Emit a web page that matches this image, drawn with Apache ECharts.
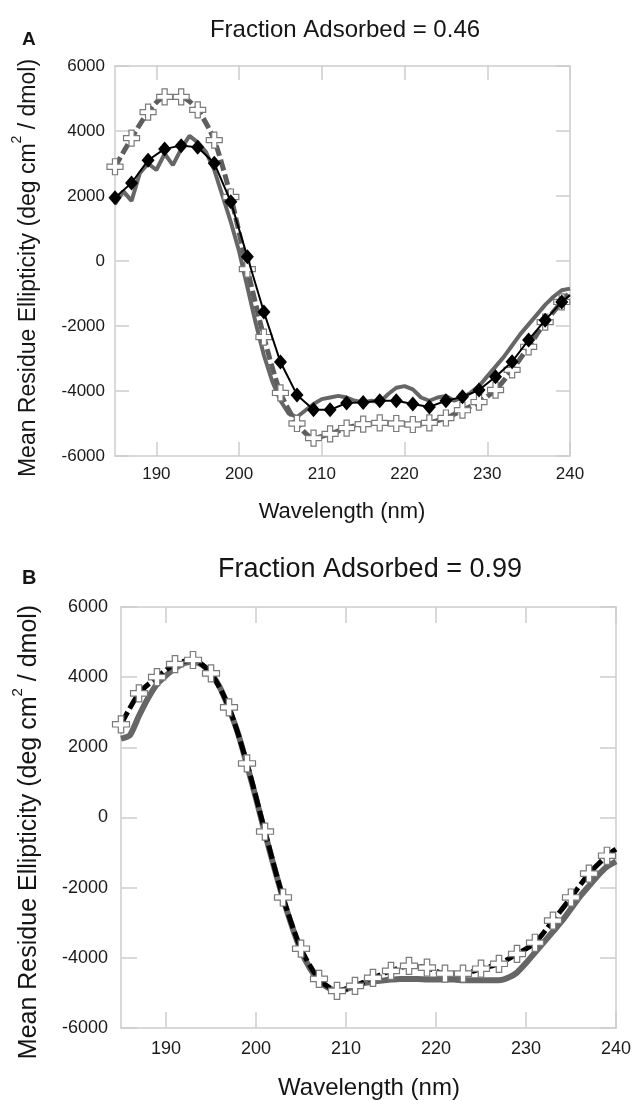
<!DOCTYPE html>
<html>
<head>
<meta charset="utf-8">
<script src="https://cdn.jsdelivr.net/npm/echarts@6/dist/echarts.min.js"></script>
<style>
html,body{margin:0;padding:0;background:#fff;}
#c{width:634px;height:1101px;}
</style>
</head>
<body>
<div id="c"></div>
<script>
// ---------- data ----------
const xTicks = [190, 200, 210, 220, 230, 240];
const yTicks = [-6000, -4000, -2000, 0, 2000, 4000, 6000];

// Panel A (Fraction Adsorbed = 0.46)
const wlA1nm = [185,186,187,188,189,190,191,192,193,194,195,196,197,198,199,200,201,202,203,204,205,206,207,208,209,210,211,212,213,214,215,216,217,218,219,220,221,222,223,224,225,226,227,228,229,230,231,232,233,234,235,236,237,238,239,240];
const aGraySolid = [1750,2150,1850,2700,3000,2800,3300,2950,3450,3850,3650,3350,2800,2000,1200,300,-800,-1900,-2900,-3700,-4300,-4700,-4800,-4600,-4400,-4250,-4200,-4150,-4200,-4300,-4350,-4300,-4350,-4100,-3900,-3850,-3950,-4200,-4300,-4200,-4150,-4300,-4200,-4050,-3850,-3550,-3250,-2950,-2600,-2250,-1950,-1650,-1350,-1100,-900,-850];
const wlA2nm = [185,187,189,191,193,195,197,199,201,203,205,207,209,211,213,215,217,219,221,223,225,227,229,231,233,235,237,239,240];
const aGrayDashedPlus = [2900,3780,4580,5050,5050,4650,3720,1970,-250,-2340,-4060,-5000,-5450,-5320,-5140,-5020,-4980,-5000,-5030,-4980,-4830,-4590,-4340,-3970,-3350,-2640,-1880,-1260,-950];
const aBlackDiamond = [1950,2400,3100,3450,3550,3500,3010,1820,130,-1570,-3110,-4120,-4580,-4580,-4370,-4350,-4300,-4300,-4400,-4490,-4300,-4180,-3970,-3560,-3100,-2430,-1820,-1260,-1050];

// Panel B (Fraction Adsorbed = 0.99)
const wlB1nm = [185,186,187,188,189,190,191,192,193,194,195,196,197,198,199,200,201,202,203,204,205,206,207,208,209,210,211,212,213,214,215,216,217,218,219,220,221,222,223,224,225,226,227,228,229,230,231,232,233,234,235,236,237,238,239,240];
const bGraySolid = [2250,2350,2900,3400,3800,4050,4250,4400,4450,4350,4100,3700,3100,2400,1500,550,-450,-1400,-2300,-3100,-3800,-4300,-4650,-4850,-4950,-4900,-4800,-4720,-4680,-4650,-4620,-4600,-4600,-4600,-4620,-4620,-4620,-4620,-4640,-4640,-4640,-4640,-4640,-4570,-4420,-4150,-3850,-3550,-3250,-2950,-2600,-2250,-1950,-1650,-1400,-1250];
const wlB2nm = [185,187,189,191,193,195,197,199,201,203,205,207,209,211,213,215,217,219,221,223,225,227,229,231,233,235,237,239,240];
const bBlackDashedPlus = [2657,3540,4000,4370,4490,4110,3140,1540,-400,-2280,-3740,-4600,-4940,-4800,-4570,-4370,-4230,-4280,-4450,-4450,-4310,-4170,-3890,-3570,-2940,-2280,-1600,-1090,-900];

// ---------- helpers ----------
const FONT = 'Liberation Sans, Arial, Helvetica, sans-serif';
const PLUS = 'path://M3.4,0H6.6V3.4H10V6.6H6.6V10H3.4V6.6H0V3.4H3.4Z';
const AXC = '#cdcdcd';
function pairs(xs, ys){ return xs.map((x,i)=>[x, ys[i]]); }
function plusSym(v){ return v[0] === 240 ? 'none' : PLUS; }
function diaSym(v){ return v[0] === 240 ? 'none' : 'diamond'; }

function xAx(grid, pos, showLabel, fs, tickLen, margin){
  return {
    type:'value', gridIndex:grid, position:pos, min:185, max:240,
    axisLine:{show:true, onZero:false, lineStyle:{color:AXC, width:1.5}},
    axisTick:{show:true, inside:true, length:tickLen, customValues:xTicks, lineStyle:{color:AXC, width:1.5}},
    axisLabel:{show:showLabel, customValues:xTicks, fontSize:fs, fontFamily:FONT, color:'#1a1a1a', margin:margin,
      formatter:(v)=>String(v)},
    splitLine:{show:false}
  };
}
function yAx(grid, pos, showLabel, fs, tickLen, margin){
  return {
    type:'value', gridIndex:grid, position:pos, min:-6000, max:6000, interval:2000,
    axisLine:{show:true, onZero:false, lineStyle:{color:AXC, width:1.5}},
    axisTick:{show:true, inside:true, length:tickLen, lineStyle:{color:AXC, width:1.5}},
    axisLabel:{show:showLabel, fontSize:fs, fontFamily:FONT, color:'#1a1a1a', margin:margin,
      formatter:(v)=>String(v)},
    splitLine:{show:false}
  };
}
function txt(x, y, text, fs, opts){
  opts = opts || {};
  return {
    type:'text', x:x, y:y, rotation:opts.rot || 0, z:100,
    style:{
      text:text, fontSize:fs, fontFamily:FONT, fontWeight:opts.bold ? 'bold' : 'normal',
      fill:'#151515', align:opts.align || 'center', verticalAlign:'middle',
      rich: opts.rich
    }
  };
}
const yName = '{m|Mean Residue Ellipticity (deg cm}{sup|2}{m| / dmol)}';

const chart = echarts.init(document.getElementById('c'), null, {renderer:'canvas'});
chart.setOption({
  animation:false,
  backgroundColor:'#fff',
  grid:[
    {left:115, top:66, width:455, height:390},
    {left:121, top:607, width:496, height:421}
  ],
  xAxis:[
    xAx(0,'bottom',true,17,14,10),
    xAx(0,'top',false,17,14,10),
    xAx(1,'bottom',true,18,16,12),
    xAx(1,'top',false,18,16,12)
  ],
  yAxis:[
    yAx(0,'left',true,17,14,10),
    yAx(0,'right',false,17,14,10),
    yAx(1,'left',true,18,16,13),
    yAx(1,'right',false,18,16,13)
  ],
  series:[
    {
      type:'line', xAxisIndex:0, yAxisIndex:0, data:pairs(wlA1nm, aGraySolid),
      showSymbol:false, symbol:'none', z:2,
      lineStyle:{color:'#666666', width:4}
    },
    {
      type:'line', xAxisIndex:0, yAxisIndex:0, data:pairs(wlA2nm, aGrayDashedPlus),
      smooth:0.25, symbol:plusSym, symbolSize:16, z:3,
      lineStyle:{color:'#5e5e5e', width:5, type:[11,4]},
      itemStyle:{color:'#ffffff', borderColor:'#7a7a7a', borderWidth:1.2}
    },
    {
      type:'line', xAxisIndex:0, yAxisIndex:0, data:pairs(wlA2nm, aBlackDiamond),
      symbol:diaSym, symbolSize:[13,15], z:4,
      lineStyle:{color:'#000', width:2},
      itemStyle:{color:'#000', borderColor:'#000', borderWidth:0}
    },
    {
      type:'line', xAxisIndex:2, yAxisIndex:2, data:pairs(wlB1nm, bGraySolid),
      showSymbol:false, symbol:'none', smooth:0.2, z:2,
      lineStyle:{color:'#666666', width:6}
    },
    {
      type:'line', xAxisIndex:2, yAxisIndex:2, data:pairs(wlB2nm, bBlackDashedPlus),
      smooth:0.25, symbol:plusSym, symbolSize:17, z:3,
      lineStyle:{color:'#000', width:5, type:[14,4]},
      itemStyle:{color:'#ffffff', borderColor:'#7a7a7a', borderWidth:1.2}
    }
  ],
  graphic:[
    txt(22, 40, 'A', 19, {bold:true, align:'left'}),
    txt(345, 30, 'Fraction Adsorbed = 0.46', 24),
    txt(342, 512, 'Wavelength (nm)', 22),
    txt(25, 268, yName, 23, {rot:Math.PI/2, rich:{
      m:{fontSize:23, fontFamily:FONT, fill:'#151515', lineHeight:30, verticalAlign:'bottom'},
      sup:{fontSize:14, fontFamily:FONT, fill:'#151515', lineHeight:30, verticalAlign:'top'}}}),
    txt(22, 578, 'B', 20, {bold:true, align:'left'}),
    txt(370, 570, 'Fraction Adsorbed = 0.99', 27),
    txt(369, 1088, 'Wavelength (nm)', 24),
    txt(26, 832, yName, 25, {rot:Math.PI/2, rich:{
      m:{fontSize:25, fontFamily:FONT, fill:'#151515', lineHeight:32, verticalAlign:'bottom'},
      sup:{fontSize:15, fontFamily:FONT, fill:'#151515', lineHeight:32, verticalAlign:'top'}}})
  ]
});
</script>
</body>
</html>
